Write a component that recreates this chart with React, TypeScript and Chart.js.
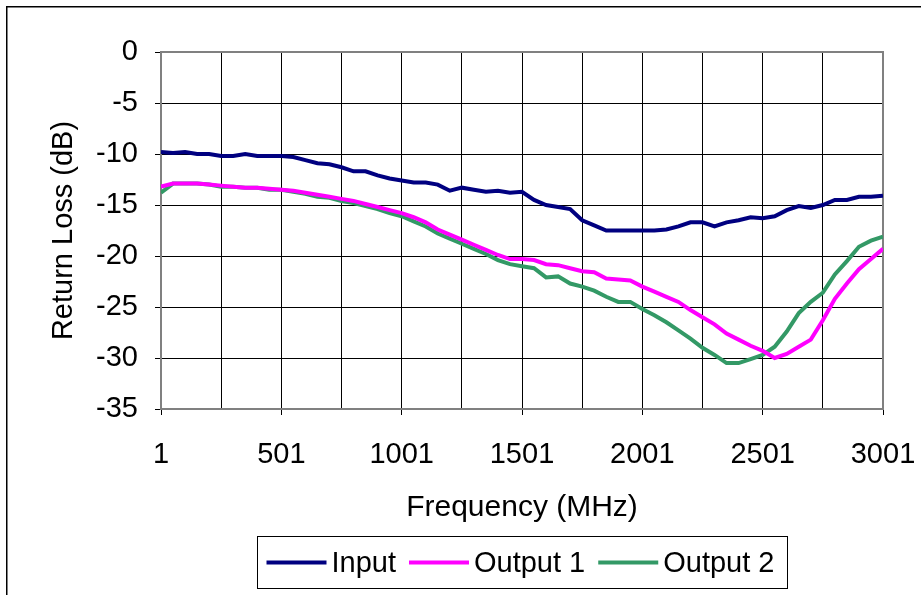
import React, { useEffect, useRef } from 'react';
import { Chart, registerables } from 'chart.js';

Chart.register(...registerables);

// ---------- data ----------
const freqMHz = [
  1, 51, 101, 151, 201, 251, 301, 351, 401, 451, 501, 551, 601, 651, 701, 751, 801, 851, 901, 951,
  1001, 1051, 1101, 1151, 1201, 1251, 1301, 1351, 1401, 1451, 1501, 1551, 1601, 1651, 1701, 1751, 1801, 1851, 1901, 1951,
  2001, 2051, 2101, 2151, 2201, 2251, 2301, 2351, 2401, 2451, 2501, 2551, 2601, 2651, 2701, 2751, 2801, 2851, 2901, 2951,
  3001,
];

const inputRL = [
  -9.8, -9.9, -9.8, -10.0, -10.0, -10.2, -10.2, -10.0, -10.2, -10.2, -10.2, -10.3, -10.6, -10.9, -11.0, -11.3, -11.7, -11.7, -12.1, -12.4,
  -12.6, -12.8, -12.8, -13.0, -13.6, -13.3, -13.5, -13.7, -13.6, -13.8, -13.7, -14.5, -15.0, -15.2, -15.4, -16.5, -17.0, -17.5, -17.5, -17.5,
  -17.5, -17.5, -17.4, -17.1, -16.7, -16.7, -17.1, -16.7, -16.5, -16.2, -16.3, -16.1, -15.5, -15.1, -15.3, -15.0, -14.5, -14.5, -14.2, -14.2,
  -14.1,
];

const output1RL = [
  -13.2, -12.9, -12.9, -12.9, -13.0, -13.1, -13.2, -13.3, -13.3, -13.4, -13.5, -13.6, -13.8, -14.0, -14.2, -14.4, -14.6, -14.9, -15.2, -15.5,
  -15.8, -16.2, -16.7, -17.4, -17.9, -18.4, -18.9, -19.4, -19.9, -20.3, -20.3, -20.4, -20.8, -20.9, -21.2, -21.5, -21.6, -22.2, -22.3, -22.4,
  -23.0, -23.5, -24.0, -24.5, -25.3, -26.0, -26.7, -27.6, -28.2, -28.8, -29.3, -30.0, -29.6, -28.9, -28.2, -26.3, -24.2, -22.7, -21.3, -20.3,
  -19.3,
];

const output2RL = [
  -13.8, -12.9, -12.9, -12.9, -13.0, -13.2, -13.2, -13.3, -13.3, -13.5, -13.5, -13.7, -13.9, -14.2, -14.3, -14.6, -14.8, -15.1, -15.4, -15.8,
  -16.1, -16.6, -17.1, -17.8, -18.3, -18.8, -19.3, -19.8, -20.4, -20.8, -21.0, -21.2, -22.1, -22.0, -22.7, -23.0, -23.4, -24.0, -24.5, -24.5,
  -25.2, -25.8, -26.5, -27.3, -28.1, -29.0, -29.7, -30.5, -30.5, -30.1, -29.7, -28.9, -27.4, -25.6, -24.5, -23.6, -21.8, -20.5, -19.1, -18.5,
  -18.1,
];

const seriesNames = ['Input', 'Output 1', 'Output 2'];
const seriesValues = [inputRL, output1RL, output2RL];
const seriesColors = ['#000080', '#FF00FF', '#339966'];

const xGridValues = [1, 251, 501, 751, 1001, 1251, 1501, 1751, 2001, 2251, 2501, 2751, 3001];
const xLabelValues = [1, 501, 1001, 1501, 2001, 2501, 3001];
const yMin = -35;
const yMax = 0;
const yStep = 5;

const xTitle = 'Frequency (MHz)';
const yTitle = 'Return Loss (dB)';

const FONT = '"Liberation Sans", Arial, Helvetica, sans-serif';
const FONT_SIZE = 29;

// ---------- plugins ----------
const framePlugin = {
  id: 'frameBg',
  beforeDraw(chart: any) {
    const { ctx, width, height } = chart;
    ctx.save();
    ctx.fillStyle = '#ffffff';
    ctx.fillRect(0, 0, width, height);
    ctx.strokeStyle = '#000000';
    ctx.lineWidth = 1.5;
    ctx.strokeRect(6.75, 6.75, width + 20, height + 20);
    ctx.restore();
  },
};

const plotBorderPlugin = {
  id: 'plotBorder',
  beforeDatasetsDraw(chart: any) {
    const { ctx, chartArea } = chart;
    ctx.save();
    ctx.strokeStyle = '#808080';
    ctx.lineWidth = 2;
    ctx.strokeRect(chartArea.left, chartArea.top, chartArea.right - chartArea.left, chartArea.bottom - chartArea.top);
    ctx.restore();
  },
};

const boxLegendPlugin = {
  id: 'boxLegend',
  afterDraw(chart: any) {
    const { ctx, chartArea } = chart;
    ctx.save();
    ctx.font = `${FONT_SIZE}px ${FONT}`;
    const lineLen = 60;
    const gapAfterLine = 5;
    const gapItems = 13;
    const padL = 9;
    const padR = 13;
    const items = chart.data.datasets.map((ds: any) => ({
      label: ds.label,
      color: ds.borderColor,
      w: ctx.measureText(ds.label).width,
    }));
    const content =
      items.reduce((s: number, it: any) => s + lineLen + gapAfterLine + it.w, 0) + gapItems * (items.length - 1);
    const boxW = Math.round(content + padL + padR);
    const cx = (chartArea.left + chartArea.right) / 2;
    const boxX = Math.round(cx - boxW / 2) + 0.5;
    const boxY = chartArea.bottom + 127.5;
    const boxH = 52;
    ctx.strokeStyle = '#000000';
    ctx.lineWidth = 1;
    ctx.strokeRect(boxX, boxY, boxW, boxH);
    const midY = boxY + boxH / 2;
    let x = boxX + padL;
    ctx.textBaseline = 'middle';
    ctx.textAlign = 'left';
    items.forEach((it: any) => {
      ctx.strokeStyle = it.color;
      ctx.lineWidth = 4;
      ctx.beginPath();
      ctx.moveTo(x, midY);
      ctx.lineTo(x + lineLen, midY);
      ctx.stroke();
      x += lineLen + gapAfterLine;
      ctx.fillStyle = '#000000';
      ctx.fillText(it.label, x, midY + 1);
      x += it.w + gapItems;
    });
    ctx.restore();
  },
};

export default function App() {
  const canvasRef = useRef<HTMLCanvasElement | null>(null);

  useEffect(() => {
    const canvas = canvasRef.current;
    if (!canvas) return;

    const datasets = seriesNames.map((name, i) => ({
      label: name,
      data: freqMHz.map((f, j) => ({ x: f, y: seriesValues[i][j] })),
      borderColor: seriesColors[i],
      backgroundColor: seriesColors[i],
      borderWidth: 4,
      pointRadius: 0,
      tension: 0,
      fill: false,
    }));

    const chart = new Chart(canvas, {
      type: 'line',
      data: { datasets },
      options: {
        animation: false,
        responsive: false,
        devicePixelRatio: 1,
        layout: { padding: { left: 0, top: 52, right: 38, bottom: 56 } },
        plugins: {
          legend: { display: false },
          tooltip: { enabled: false },
          title: { display: false },
        },
        scales: {
          x: {
            type: 'linear',
            min: 1,
            max: 3001,
            afterBuildTicks: (scale: any) => {
              scale.ticks = xGridValues.map((v) => ({ value: v }));
            },
            afterFit: (scale: any) => {
              scale.height = 130;
              scale.paddingLeft = 0;
              scale.paddingRight = 0;
            },
            ticks: {
              autoSkip: false,
              maxRotation: 0,
              minRotation: 0,
              padding: 23,
              color: '#000000',
              font: { family: FONT, size: FONT_SIZE },
              callback: (v: any) => (xLabelValues.includes(Number(v)) ? String(v) : ''),
            },
            grid: {
              color: '#000000',
              lineWidth: 1,
              drawTicks: true,
              tickLength: 6,
              tickColor: (ctx: any) =>
                ctx.tick && xLabelValues.includes(ctx.tick.value) ? '#000000' : 'rgba(0,0,0,0)',
            },
            border: { display: false },
            title: {
              display: true,
              text: xTitle,
              color: '#000000',
              font: { family: FONT, size: 30 },
              padding: { top: 0, bottom: 13 },
            },
          },
          y: {
            type: 'linear',
            min: yMin,
            max: yMax,
            afterFit: (scale: any) => {
              scale.width = 161;
            },
            ticks: {
              stepSize: yStep,
              padding: 17,
              color: '#000000',
              font: { family: FONT, size: FONT_SIZE },
            },
            grid: {
              color: '#000000',
              lineWidth: 1,
              drawTicks: true,
              tickLength: 6,
              tickColor: '#000000',
            },
            border: { display: false },
            title: {
              display: true,
              text: yTitle,
              color: '#000000',
              font: { family: FONT, size: FONT_SIZE },
              padding: { top: 47, bottom: 0 },
            },
          },
        },
      },
      plugins: [framePlugin, plotBorderPlugin, boxLegendPlugin],
    });

    return () => {
      chart.destroy();
    };
  }, []);

  return (
    <div style={{ position: 'fixed', left: 0, top: 0, width: 921, height: 595, background: '#fff' }}>
      <canvas ref={canvasRef} width={921} height={595} style={{ display: 'block', width: 921, height: 595 }} />
    </div>
  );
}
